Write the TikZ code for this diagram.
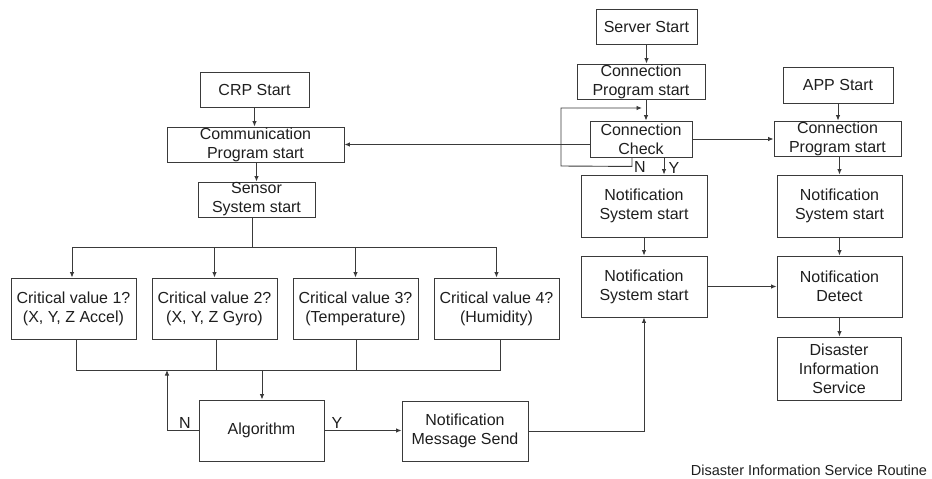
\documentclass[tikz,border=0pt]{standalone}
\usepackage{fontspec}
\setmainfont{Liberation Sans}
\usetikzlibrary{arrows.meta}
\definecolor{ln}{HTML}{3A3A3A}
\definecolor{tx}{HTML}{1E1E1E}
\tikzset{
  box/.style={draw=ln, line width=0.9pt, align=center, inner sep=0pt, text=tx,
    font=\fontsize{16}{19}\selectfont},
  arr/.style={draw=ln, line width=0.9pt, -{Latex[length=5.5pt,width=4.5pt]}},
  ln/.style={draw=ln, line width=0.9pt},
  lbl/.style={text=tx, inner sep=0pt, font=\fontsize{16}{19}\selectfont},
}
\begin{document}
\begin{tikzpicture}[x=1pt,y=-1pt]
\useasboundingbox (0,0) rectangle (932,479);
% server column
\node[box, minimum width=101pt, minimum height=35pt] (srv) at (646.5,26.5) {Server Start};
\node[box, minimum width=128pt, minimum height=35pt] (scps) at (641,81.5) {Connection\\Program start};
\node[box, minimum width=102pt, minimum height=36pt] (cc) at (641,139) {Connection\\Check};
\node[box, minimum width=126pt, minimum height=62pt] (ns1) at (644,206) {Notification\\System start};
\node[box, minimum width=126pt, minimum height=61pt] (ns2) at (644,286.5) {Notification\\System start};
% app column
\node[box, minimum width=110pt, minimum height=36pt] (app) at (838,85) {APP Start};
\node[box, minimum width=127pt, minimum height=35pt] (acps) at (837.5,138.5) {Connection\\Program start};
\node[box, minimum width=125pt, minimum height=62pt] (ans) at (839.5,206) {Notification\\System start};
\node[box, minimum width=125pt, minimum height=61pt] (nd) at (839.5,286.5) {Notification\\Detect};
\node[box, minimum width=124pt, minimum height=63pt] (dis) at (839,368.5) {Disaster\\Information\\Service};
% CRP column
\node[box, minimum width=109pt, minimum height=35pt] (crp) at (254.5,89.5) {CRP Start};
\node[box, minimum width=177pt, minimum height=35pt] (comm) at (255.5,144.5) {Communication\\Program start};
\node[box, minimum width=117pt, minimum height=35pt] (sens) at (256.5,199.5) {Sensor\\System start};
\node[box, minimum width=125pt, minimum height=61pt] (cv1) at (73.5,308.5) {Critical value 1?\\(X, Y, Z Accel)};
\node[box, minimum width=125pt, minimum height=61pt] (cv2) at (214.5,308.5) {Critical value 2?\\(X, Y, Z Gyro)};
\node[box, minimum width=125pt, minimum height=61pt] (cv3) at (355.5,308.5) {Critical value 3?\\(Temperature)};
\node[box, minimum width=125pt, minimum height=61pt] (cv4) at (496.5,308.5) {Critical value 4?\\(Humidity)};
\node[box, minimum width=125pt, minimum height=61pt] (alg) at (261.5,430.5) {Algorithm};
\node[box, minimum width=126pt, minimum height=60pt] (nms) at (465,431) {Notification\\Message Send};
\node[text=tx, inner sep=0pt, font=\fontsize{14.5}{17}\selectfont] (cap) at (809,470) {Disaster Information Service Routine};
% coordinates
\coordinate (loopend) at (642,108);
\coordinate (jn) at (262,370);
\coordinate (nup) at (167,370);
% server connectors
\draw[arr] (srv.south) -- (srv.south |- scps.north);
\draw[arr] ([xshift=5pt]scps.south) -- ([xshift=5pt]scps.south |- cc.north);
\draw[arr] ([xshift=-9pt]cc.south) -- ++(0,9) -- (561,166) -- (561,108) -- (loopend);
\draw[arr] ([xshift=23pt]cc.south) -- ([xshift=23pt]cc.south |- ns1.north);
\node[lbl] (nlab) at (640,167) {N};
\node[lbl] (ylab) at (674,168) {Y};
\draw[arr] (cc.west |- comm.east) -- (comm.east);
\draw[arr] (cc.east) -- (cc.east -| acps.west);
\draw[arr] (ns1.south) -- (ns2.north);
\draw[arr] (ns2.east) -- (ns2.east -| nd.west);
% app connectors
\draw[arr] (app.south) -- (app.south |- acps.north);
\draw[arr] (acps.south -| ans.north) -- (ans.north);
\draw[arr] (ans.south) -- (nd.north);
\draw[arr] (nd.south) -- (nd.south |- dis.north);
% CRP connectors
\draw[arr] (crp.south) -- (crp.south |- comm.north);
\draw[arr] (comm.south -| sens.north) -- (sens.north);
\draw[arr] ([xshift=-4pt]sens.south) -- ++(0,30) -| ([xshift=-1.5pt]cv1.north);
\draw[arr] ([xshift=-4pt]sens.south) -- ++(0,30) -| (cv2.north);
\draw[arr] ([xshift=-4pt]sens.south) -- ++(0,30) -| (cv3.north);
\draw[arr] ([xshift=-4pt]sens.south) -- ++(0,30) -| (cv4.north);
\draw[ln] ([xshift=2.5pt]cv1.south) |- (jn);
\draw[ln] ([xshift=3.5pt]cv4.south) |- (jn);
\draw[ln] ([xshift=1.5pt]cv2.south) -- ++(0,31);
\draw[ln] ([xshift=0.5pt]cv3.south) -- ++(0,31);
\draw[arr] (jn) -- (jn |- alg.north);
\draw[arr] (alg.west) -| (nup);
\node[lbl] (algn) at (185,423) {N};
\draw[arr] (alg.east) -- (alg.east -| nms.west);
\node[lbl] (algy) at (337,423) {Y};
\draw[arr] (nms.east) -| (ns2.south);
\end{tikzpicture}
\end{document}
